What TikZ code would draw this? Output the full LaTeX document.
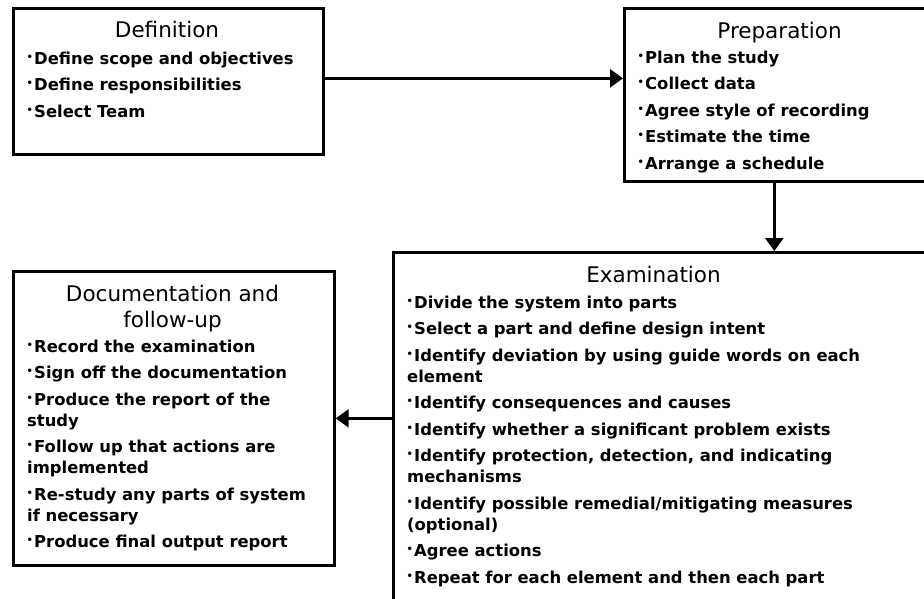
\documentclass[tikz,border=0pt]{standalone}
\usepackage{fontspec}
\setmainfont{DejaVu Sans}
\usetikzlibrary{arrows.meta}

% small raised bullet in front of each list item
\newcommand\blt{\makebox[7pt][l]{\kern-0.5pt\raisebox{3.8pt}{\fontsize{10}{10}\selectfont •}}}
% next item: a little extra space, then a bullet
\newcommand\nx{\\[5.5pt]\blt}
% fixed height for the first line of a list
\newcommand\firstline{\rule{0pt}{13pt}}

\tikzset{
  box/.style={draw=black, line width=2.7pt, fill=white, rectangle,
    inner sep=0pt, anchor=north west},
  ttl/.style={font=\fontsize{21.5}{26}\selectfont, inner sep=0pt, align=center},
  lst/.style={font=\bfseries\fontsize{16.4}{21}\selectfont, inner sep=0pt,
    align=left, anchor=north west},
  flow/.style={line width=2.7pt, -{Triangle[length=13pt,width=18pt]}},
}

\begin{document}
\begin{tikzpicture}[x=1pt, y=-1pt]
  \useasboundingbox (0,0) rectangle (924,598);
  \clip (0,0) rectangle (924,598);

  % the four stages
  \node[box, minimum width=310pt, minimum height=146pt] (def)  at (12,7)   {};
  \node[box, minimum width=313pt, minimum height=173pt] (prep) at (623,7)  {};
  \node[box, minimum width=560pt, minimum height=380pt] (exam) at (392,251) {};
  \node[box, minimum width=321pt, minimum height=294pt] (doc)  at (12,270) {};

  % headings
  \node[ttl, anchor=base] (defT)  at (167,37)    {Definition};
  \node[ttl, anchor=base] (prepT) at (779.5,38)  {Preparation};
  \node[ttl, anchor=base] (examT) at (653.5,282) {Examination};
  \node[ttl, anchor=north] (docT) at (172.5,285) {\rule{0pt}{16pt}Documentation and\\follow-up};

  % activities of each stage
  \node[lst] (defL) at (27,51) {\firstline\blt Define scope and objectives
    \nx Define responsibilities
    \nx Select Team};

  \node[lst] (prepL) at (638,50) {\firstline\blt Plan the study
    \nx Collect data
    \nx Agree style of recording
    \nx Estimate the time
    \nx Arrange a schedule};

  \node[lst] (examL) at (407,295) {\firstline\blt Divide the system into parts
    \nx Select a part and define design intent
    \nx Identify deviation by using guide words on each\\element
    \nx Identify consequences and causes
    \nx Identify whether a significant problem exists
    \nx Identify protection, detection, and indicating\\mechanisms
    \nx Identify possible remedial/mitigating measures\\(optional)
    \nx Agree actions
    \nx Repeat for each element and then each part};

  \node[lst] (docL) at (27,339) {\firstline\blt Record the examination
    \nx Sign off the documentation
    \nx Produce the report of the\\study
    \nx Follow up that actions are\\implemented
    \nx Re-study any parts of system\\if necessary
    \nx Produce final output report};

  % flow between the stages
  \draw[flow] ([yshift=3pt]def.east) -- ([yshift=3pt]def.east -| prep.west);
  \draw[flow] ([xshift=-6.5pt]prep.south) -- ([xshift=-6.5pt]prep.south |- exam.north);
  \draw[flow] (doc.east -| exam.west) -- (doc.east);
\end{tikzpicture}
\end{document}
